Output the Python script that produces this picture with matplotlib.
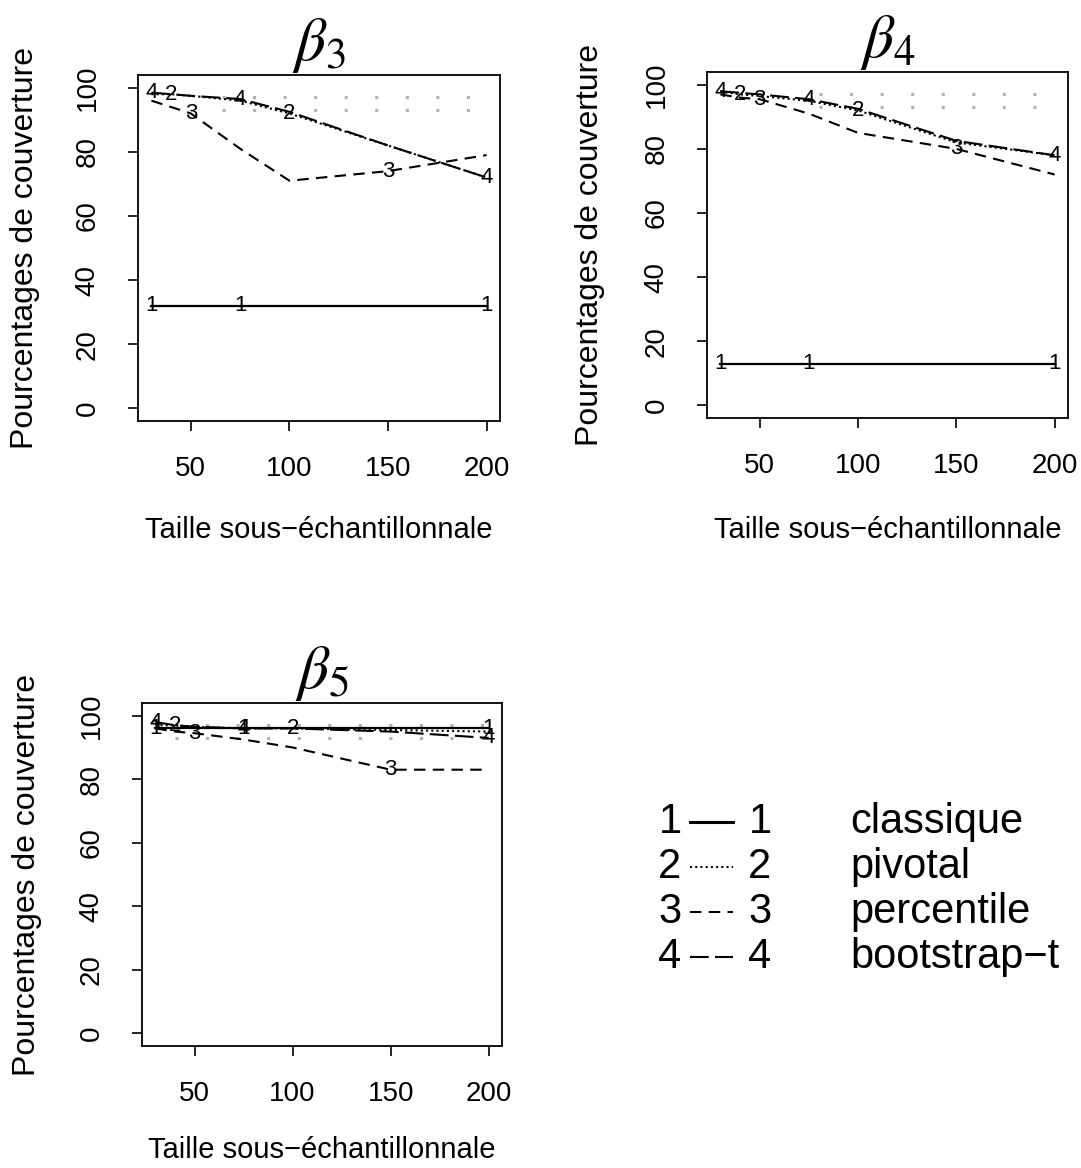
import matplotlib
matplotlib.use("Agg")
import matplotlib.pyplot as plt
from matplotlib.lines import Line2D

plt.rcParams['font.family'] = ['Liberation Sans', 'DejaVu Sans']
plt.rcParams['mathtext.fontset'] = 'stix'

# tailles sous-échantillonnales
tailles = [30, 40, 50, 75, 100, 150, 200]

methodes = ["classique", "pivotal", "percentile", "bootstrap-t"]
codes = ["1", "2", "3", "4"]

# positions (en taille) ou le numero de la methode est ecrit sur la courbe
pos_codes = {
    "1": [30, 75, 200],
    "2": [40, 100],
    "3": [50, 150],
    "4": [30, 75, 200],
}

# pourcentages de couverture par parametre
beta3 = {
    "1": [32, 32, 32, 32, 32, 32, 32],
    "2": [98, 98, 97.5, 96, 92, 82, 72],
    "3": [96, 94, 92, 81, 71, 74, 79],
    "4": [98.5, 98, 97.5, 96.5, 92.5, 82, 72],
}
beta4 = {
    "1": [13, 13, 13, 13, 13, 13, 13],
    "2": [98, 97, 96.5, 95, 92, 82, 78],
    "3": [97, 96, 95.5, 91, 85, 80, 72],
    "4": [98, 97.5, 97, 95.5, 92.5, 82.5, 78],
}
beta5 = {
    "1": [96, 96, 96, 96, 96, 96, 96],
    "2": [97, 97, 96.5, 96, 96, 95.5, 95],
    "3": [96, 95, 94.5, 92.5, 90, 83, 83],
    "4": [98, 97, 96.5, 96, 96, 95, 93],
}

# niveaux de reference pointilles (gris)
niveaux_ref = [97, 93]
debut_ref = {"3": 66, "4": 80, "5": 40}

styles = {
    "1": dict(linestyle="-", linewidth=1.6),
    "2": dict(linestyle=(0, (1, 1.5)), linewidth=1.5),
    "3": dict(linestyle=(0, (5.5, 3.5)), linewidth=1.5),
    "4": dict(linestyle=(0, (9, 3)), linewidth=1.5),
}


def panneau(fig, rect, donnees, indice, ylab_x, xlab_y):
    ax = fig.add_axes(rect)
    for niv in niveaux_ref:
        ax.hlines(niv, debut_ref[indice], 200, color="#b0b0b0",
                  linewidth=2.2, linestyle=(0, (1, 9)))
    for c in codes:
        ax.plot(tailles, donnees[c], color="black", **styles[c])
        for xp in pos_codes[c]:
            yp = donnees[c][tailles.index(xp)]
            ax.text(xp, yp, c, fontsize=16, ha="center", va="center")
    ax.set_xlim(23.2, 206.8)
    ax.set_ylim(-4, 104)
    ax.set_xticks([50, 100, 150, 200])
    ax.set_yticks([0, 20, 40, 60, 80, 100])
    ax.tick_params(axis="both", direction="out", length=7, width=1.2,
                   labelsize=20)
    ax.tick_params(axis="x", pad=18)
    ax.tick_params(axis="y", pad=20)
    for lab in ax.get_yticklabels():
        lab.set_rotation(90)
        lab.set_va("center")
    for s in ax.spines.values():
        s.set_linewidth(1.3)
    ax.set_ylabel("Pourcentages de couverture", fontsize=23)
    ax.yaxis.set_label_coords(ylab_x, 0.5)
    ax.set_xlabel("Taille sous\u2212échantillonnale", fontsize=21)
    ax.xaxis.set_label_coords(0.5, xlab_y)
    ax.xaxis.label.set_va("center")
    ax.yaxis.label.set_va("center")
    ax.text(0.5, 1.0, r"$\beta_{%s}$" % indice, transform=ax.transAxes,
            fontsize=44, ha="center", va="bottom")
    return ax


W, H = 1081, 1168
fig = plt.figure(figsize=(W / 100, H / 100), dpi=100)

panneau(fig, [138 / W, 1 - 421 / H, 362 / W, 346 / H], beta3, "3", -0.312, -0.315)
panneau(fig, [707 / W, 1 - 418 / H, 361 / W, 346 / H], beta4, "4", -0.324, -0.324)
panneau(fig, [142 / W, 1 - 1046 / H, 360 / W, 343 / H], beta5, "5", -0.319, -0.303)

# legende
lignes_y = [822, 867, 912, 957]
for c, nom, yy in zip(codes, methodes, lignes_y):
    yf = 1 - yy / H
    fig.text(670 / W, yf, c, fontsize=30, ha="center", va="center")
    fig.text(760 / W, yf, c, fontsize=30, ha="center", va="center")
    fig.text(850 / W, yf, nom.replace("-", "\u2212"), fontsize=30,
             ha="left", va="center")
    st = dict(styles[c])
    if c == "1":
        st["linewidth"] = 2.2
    fig.add_artist(Line2D([690 / W, 733 / W], [yf, yf], color="black",
                          transform=fig.transFigure, **st))

fig.savefig("out.png", dpi=100)
